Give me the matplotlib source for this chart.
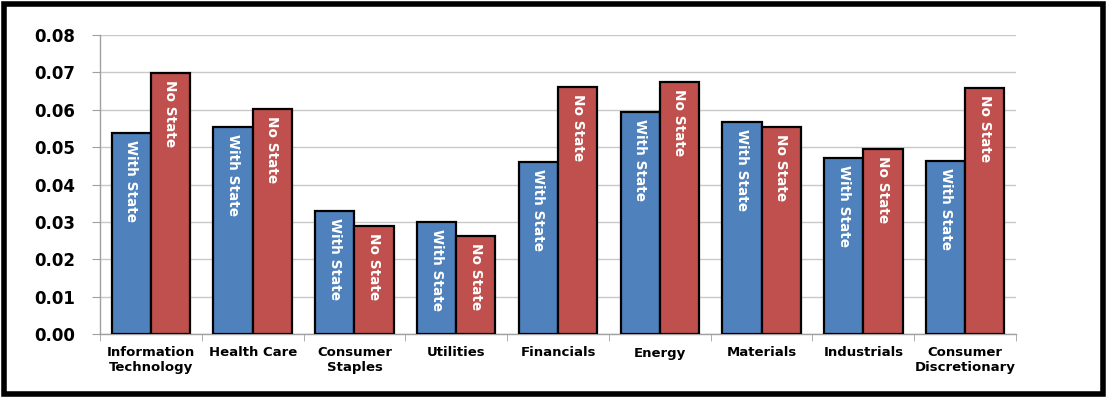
import matplotlib
matplotlib.use("Agg")
import matplotlib.pyplot as plt
from matplotlib.patches import Rectangle
import numpy as np

categories = ["Information\nTechnology", "Health Care", "Consumer\nStaples", "Utilities",
              "Financials", "Energy", "Materials", "Industrials", "Consumer\nDiscretionary"]
with_state = [0.0537, 0.0555, 0.0330, 0.0300, 0.0460, 0.0595, 0.0568, 0.0472, 0.0463]
no_state = [0.0698, 0.0603, 0.0290, 0.0262, 0.0660, 0.0674, 0.0553, 0.0494, 0.0658]
yticks = [0.00, 0.01, 0.02, 0.03, 0.04, 0.05, 0.06, 0.07, 0.08]

W, H = 1107, 398
fig = plt.figure(figsize=(W / 100, H / 100), dpi=100)
ax = fig.add_axes([100 / W, (H - 334) / H, (1016 - 100) / W, (334 - 35) / H])

x = np.arange(len(categories))
bw = 0.385
b1 = ax.bar(x - bw / 2, with_state, bw, color="#4F81BD", edgecolor="black", linewidth=1.6, zorder=3)
b2 = ax.bar(x + bw / 2, no_state, bw, color="#C0504D", edgecolor="black", linewidth=1.6, zorder=3)

for rects, lab in ((b1, "With State"), (b2, "No State")):
    for r in rects:
        ax.annotate(lab, (r.get_x() + r.get_width() / 2, r.get_height()),
                    xytext=(0, -5), textcoords="offset points",
                    rotation=-90, ha="center", va="top", color="white",
                    fontsize=9.8, fontweight="bold", family="Liberation Sans Narrow", zorder=4)

ax.set_xlim(-0.5, len(categories) - 0.5)
ax.set_ylim(0, 0.08)
ax.set_yticks(yticks)
ax.set_yticklabels([f"{v:.2f}" for v in yticks], fontsize=12, fontweight="bold")
ax.set_xticks(x)
ax.set_xticklabels(categories, fontsize=9.5, fontweight="bold", linespacing=1.15)
ax.set_xticks(np.arange(len(categories) + 1) - 0.5, minor=True)
ax.tick_params(axis="x", which="major", length=0, pad=9)
ax.tick_params(axis="x", which="minor", length=5, color="#A0A0A0")
ax.tick_params(axis="y", length=6, color="#A0A0A0", pad=12)
ax.grid(axis="y", color="#C8C8C8", linewidth=1.0, zorder=0)
for s in ("top", "right"):
    ax.spines[s].set_visible(False)
for s in ("left", "bottom"):
    ax.spines[s].set_color("#A0A0A0")
    ax.spines[s].set_linewidth(1.0)

fig.patches.append(Rectangle((4 / W, 4 / H), (W - 8) / W, (H - 8) / H, transform=fig.transFigure,
                             fill=False, edgecolor="black", linewidth=4, zorder=10))

fig.savefig("out.png", dpi=100)
